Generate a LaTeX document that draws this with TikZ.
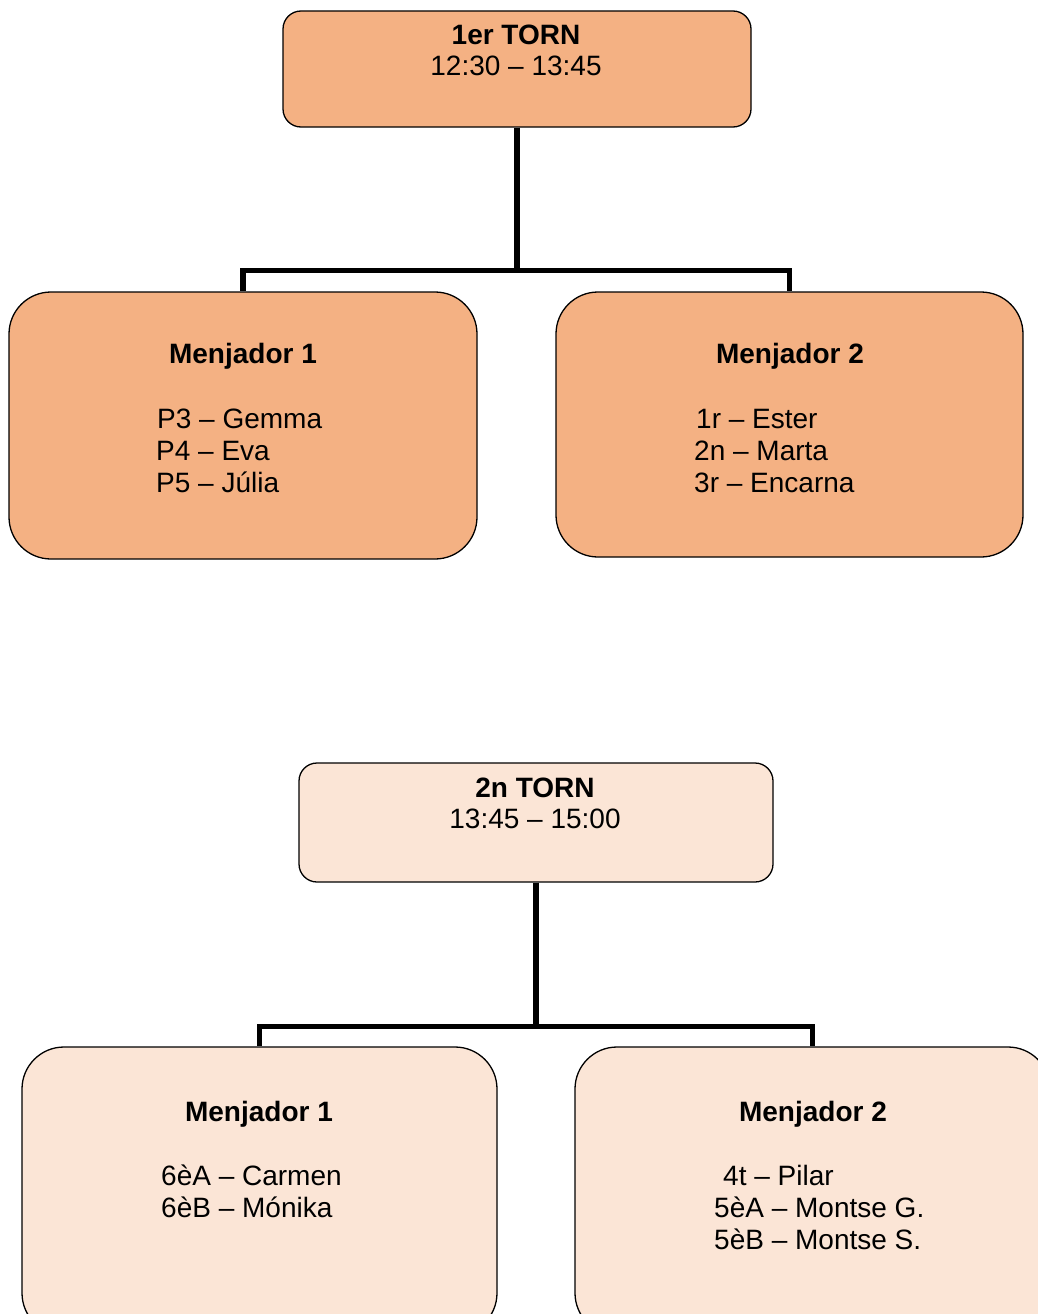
\documentclass[tikz,border=0pt]{standalone}
\usepackage{fontspec}
\setmainfont{Liberation Sans}
\definecolor{orangeA}{HTML}{F4B183}
\definecolor{orangeB}{HTML}{FBE5D6}
\tikzset{
  boxstyle/.style={draw=black, line width=1.3pt, rounded corners=#1, inner sep=0pt},
  conn/.style={draw=black, line width=5.5pt},
  txt/.style={inner sep=0pt, font=\fontsize{28}{32}\selectfont},
  head/.style={txt, anchor=base, font=\fontsize{28}{32}\selectfont\bfseries},
  item/.style={txt, anchor=base west}
}
\begin{document}
\begin{tikzpicture}[x=1pt,y=-1pt]
\clip (0,0) rectangle (1038,1314);
% first shift
\node[boxstyle=18pt, fill=orangeA, minimum width=468pt, minimum height=116pt] (t1) at (517,69) {};
\node[boxstyle=42pt, fill=orangeA, minimum width=468pt, minimum height=267pt] (a1) at (243,425.5) {};
\node[boxstyle=42pt, fill=orangeA, minimum width=467pt, minimum height=265pt] (a2) at (789.5,424.5) {};
\draw[conn] (t1.south) -- ++(0,143) -| (a1.north);
\draw[conn] (t1.south) -- ++(0,143) -| (a2.north);
\node[head] (t1h) at (516,45) {1er TORN};
\node[txt, anchor=base] (t1t) at (516,76) {12:30 – 13:45};
\node[head] (a1h) at (243,363) {Menjador 1};
\node[item] (a1i1) at (157,428) {P3 – Gemma};
\node[item] (a1i2) at (156,460) {P4 – Eva};
\node[item] (a1i3) at (156,492) {P5 – Júlia};
\node[head] (a2h) at (790,363) {Menjador 2};
\node[item] (a2i1) at (696,428) {1r – Ester};
\node[item] (a2i2) at (694,460) {2n – Marta};
\node[item] (a2i3) at (694,492) {3r – Encarna};
% second shift
\node[boxstyle=18pt, fill=orangeB, minimum width=474pt, minimum height=119pt] (t2) at (536,822.5) {};
\node[boxstyle=42pt, fill=orangeB, minimum width=475pt, minimum height=288pt] (b1) at (259.5,1191) {};
\node[boxstyle=42pt, fill=orangeB, minimum width=475pt, minimum height=288pt] (b2) at (812.5,1191) {};
\draw[conn] (t2.south) -- ++(0,144) -| (b1.north);
\draw[conn] (t2.south) -- ++(0,144) -| (b2.north);
\node[head] (t2h) at (535,797) {2n TORN};
\node[txt, anchor=base] (t2t) at (535,828) {13:45 – 15:00};
\node[head] (b1h) at (259,1121) {Menjador 1};
\node[item] (b1i1) at (161,1185) {6èA – Carmen};
\node[item] (b1i2) at (161,1217) {6èB – Mónika};
\node[head] (b2h) at (813,1121) {Menjador 2};
\node[item] (b2i1) at (723,1185) {4t – Pilar};
\node[item] (b2i2) at (714,1217) {5èA – Montse G.};
\node[item] (b2i3) at (714,1249) {5èB – Montse S.};
\end{tikzpicture}
\end{document}
